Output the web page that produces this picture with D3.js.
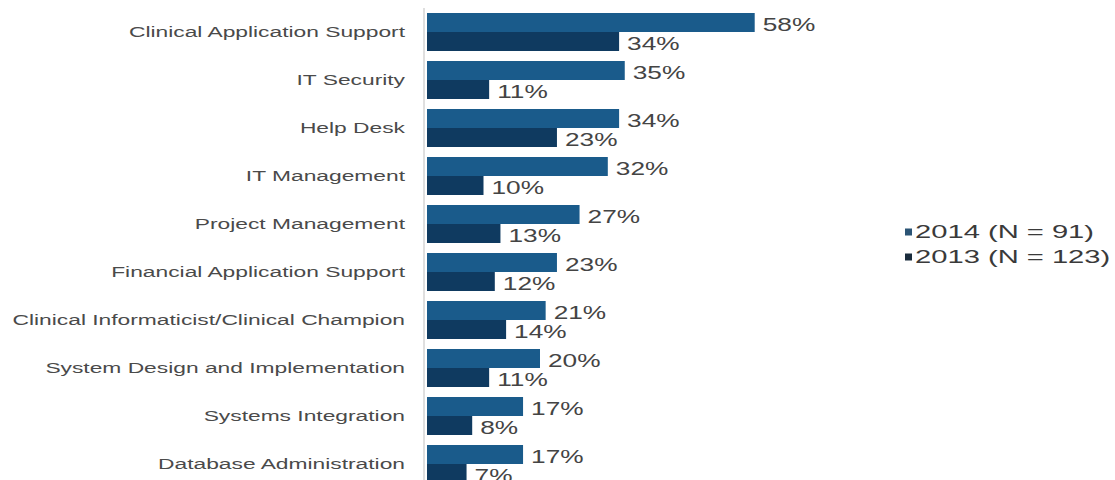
<!DOCTYPE html>
<html>
<head>
<meta charset="utf-8">
<script src="https://cdn.jsdelivr.net/npm/d3@7"></script>
<style>
  body { margin: 0; background: #fff; }
  text { font-family: "Liberation Sans", Arial, sans-serif; }
</style>
</head>
<body>
<svg id="chart" width="1115" height="480"></svg>
<script>
// data
var categories = ["Clinical Application Support", "IT Security", "Help Desk", "IT Management",
  "Project Management", "Financial Application Support", "Clinical Informaticist/Clinical Champion",
  "System Design and Implementation", "Systems Integration", "Database Administration"];
var series = ["2014 (N = 91)", "2013 (N = 123)"];
var values2014 = [58, 35, 34, 32, 27, 23, 21, 20, 17, 17];
var values2013 = [34, 11, 23, 10, 13, 12, 14, 11, 8, 7];

var svg = d3.select("#chart");
var stretch = 1.5; // the source picture is squeezed wide

var data = categories.map(function(c, i) {
  return {cat: c, vals: [values2014[i], values2013[i]]};
});

var y = d3.scaleBand()
    .domain(categories)
    .range([8.2, 487.8])
    .paddingInner(0.2083)
    .paddingOuter(0.1);

var ySub = d3.scaleBand()
    .domain(series)
    .range([0, y.bandwidth()]);

var x = d3.scaleLinear()
    .domain([0, 60])
    .range([427, 766]);

var z = d3.scaleOrdinal()
    .domain(series)
    .range(["#1a5b8b", "#0f3a60"]);

// axis line
svg.append("line")
    .attr("x1", 424).attr("x2", 424)
    .attr("y1", 8).attr("y2", 480)
    .attr("stroke", "#d4d4d4")
    .attr("stroke-width", 1.5);

// category labels
svg.append("g")
  .selectAll("text")
  .data(categories)
  .enter().append("text")
    .attr("transform", function(d) {
      return "translate(405," + (y(d) + y.bandwidth() / 2) + ") scale(" + stretch + ",1)";
    })
    .attr("dy", "0.35em")
    .attr("text-anchor", "end")
    .attr("font-size", 15.2)
    .attr("fill", "#4a4a4a")
    .text(function(d) { return d; });

var groups = svg.append("g")
  .selectAll("g")
  .data(data)
  .enter().append("g")
    .attr("transform", function(d) { return "translate(0," + y(d.cat) + ")"; });

var cells = groups.selectAll("g")
  .data(function(d) {
    return series.map(function(s, i) { return {key: s, value: d.vals[i]}; });
  })
  .enter().append("g");

cells.append("rect")
    .attr("x", x(0))
    .attr("y", function(d) { return ySub(d.key); })
    .attr("width", function(d) { return x(d.value) - x(0); })
    .attr("height", ySub.bandwidth())
    .attr("fill", function(d) { return z(d.key); });

cells.append("text")
    .attr("transform", function(d) {
      return "translate(" + (x(d.value) + 8) + "," + (ySub(d.key) + ySub.bandwidth() / 2 + 2) + ") scale(" + stretch + ",1)";
    })
    .attr("dy", "0.35em")
    .attr("font-size", 17.5)
    .attr("fill", "#444")
    .text(function(d) { return d.value + "%"; });

// legend
var legend = svg.append("g")
  .selectAll("g")
  .data(series)
  .enter().append("g")
    .attr("transform", function(d, i) { return "translate(905," + (232 + i * 25) + ")"; });

legend.append("rect")
    .attr("x", 0)
    .attr("y", -3.5)
    .attr("width", 7)
    .attr("height", 7)
    .attr("fill", function(d, i) { return ["#2b5475", "#1a2c3c"][i]; });

legend.append("text")
    .attr("transform", "translate(10,0) scale(1.62,1)")
    .attr("dy", "0.35em")
    .attr("font-size", 18)
    .attr("fill", "#3a3a3a")
    .text(function(d) { return d; });
</script>
</body>
</html>
